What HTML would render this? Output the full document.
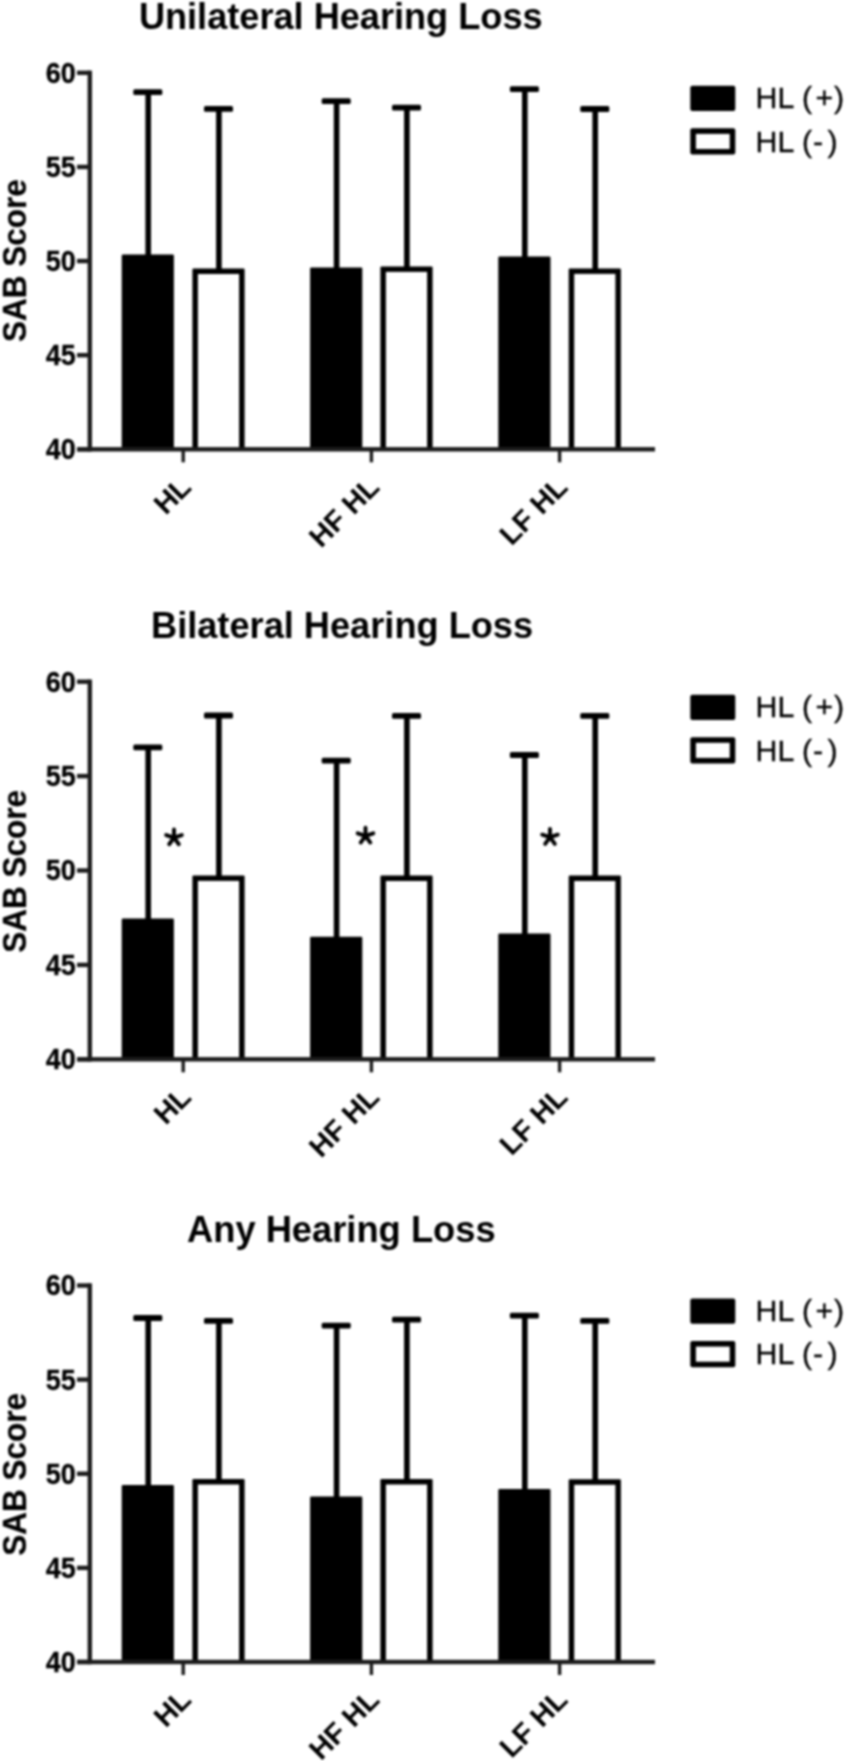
<!DOCTYPE html>
<html><head><meta charset="utf-8"><style>
html,body{margin:0;padding:0;background:#fff;}
svg{display:block;filter:blur(0.8px);}
text{font-family:"Liberation Sans",sans-serif;fill:#000;}
.t{font-size:36px;font-weight:bold;}
.n{font-size:27px;font-weight:bold;stroke:#000;stroke-width:0.3px;}
.yl{font-size:31.5px;font-weight:bold;stroke:#000;stroke-width:0.25px;}
.xl{font-size:28.8px;font-weight:bold;}
.lg{font-size:30.3px;stroke:#000;stroke-width:0.35px;}
</style></head><body>
<svg width="845" height="1761" viewBox="0 0 845 1761">
<rect width="845" height="1761" fill="#fff"/>
<text x="138.9" y="28.5" class="t" style="font-size:36.15px">Unilateral Hearing Loss</text>
<rect x="145.4" y="92.2" width="5.6" height="164.4" fill="#000"/>
<rect x="133.3" y="89.3" width="29" height="5.8" rx="1.5" fill="#000"/>
<rect x="216.1" y="108.8" width="5.6" height="161.7" fill="#000"/>
<rect x="204.0" y="105.9" width="29" height="5.8" rx="1.5" fill="#000"/>
<rect x="121.7" y="254.6" width="52.2" height="194.7" rx="1.2" fill="#000"/>
<rect x="192.4" y="268.5" width="52.2" height="180.8" rx="1.2" fill="#000"/>
<rect x="197.9" y="274.0" width="41.2" height="175.3" fill="#fff"/>
<rect x="333.8" y="101.1" width="5.6" height="168.3" fill="#000"/>
<rect x="321.7" y="98.2" width="29" height="5.8" rx="1.5" fill="#000"/>
<rect x="404.1" y="107.6" width="5.6" height="160.8" fill="#000"/>
<rect x="392.0" y="104.7" width="29" height="5.8" rx="1.5" fill="#000"/>
<rect x="310.1" y="267.4" width="52.2" height="181.9" rx="1.2" fill="#000"/>
<rect x="380.4" y="266.4" width="52.2" height="182.9" rx="1.2" fill="#000"/>
<rect x="385.9" y="271.9" width="41.2" height="177.4" fill="#fff"/>
<rect x="522.0" y="89.2" width="5.6" height="169.4" fill="#000"/>
<rect x="509.9" y="86.3" width="29" height="5.8" rx="1.5" fill="#000"/>
<rect x="592.4" y="109.0" width="5.6" height="161.4" fill="#000"/>
<rect x="580.3" y="106.1" width="29" height="5.8" rx="1.5" fill="#000"/>
<rect x="498.3" y="256.6" width="52.2" height="192.7" rx="1.2" fill="#000"/>
<rect x="568.7" y="268.4" width="52.2" height="180.9" rx="1.2" fill="#000"/>
<rect x="574.2" y="273.9" width="41.2" height="175.4" fill="#fff"/>
<rect x="87.6" y="70.6" width="4.4" height="380.9" fill="#1c1c1c"/>
<rect x="77" y="447.1" width="578" height="4.4" fill="#1c1c1c"/>
<rect x="77" y="70.6" width="12.8" height="4.4" fill="#1c1c1c"/>
<text transform="translate(75.8,82.70) scale(1,1.07)" class="n" text-anchor="end">60</text>
<rect x="77" y="164.73" width="12.8" height="4.4" fill="#1c1c1c"/>
<text transform="translate(75.8,176.83) scale(1,1.07)" class="n" text-anchor="end">55</text>
<rect x="77" y="258.85" width="12.8" height="4.4" fill="#1c1c1c"/>
<text transform="translate(75.8,270.95) scale(1,1.07)" class="n" text-anchor="end">50</text>
<rect x="77" y="352.98" width="12.8" height="4.4" fill="#1c1c1c"/>
<text transform="translate(75.8,365.07) scale(1,1.07)" class="n" text-anchor="end">45</text>
<rect x="77" y="447.1" width="12.8" height="4.4" fill="#1c1c1c"/>
<text transform="translate(75.8,459.20) scale(1,1.07)" class="n" text-anchor="end">40</text>
<rect x="181.5" y="449.3" width="3.4" height="13" fill="#1c1c1c"/>
<text transform="translate(192.8,488.7) rotate(-45)" class="xl" text-anchor="end">HL</text>
<rect x="369.7" y="449.3" width="3.4" height="13" fill="#1c1c1c"/>
<text transform="translate(381.0,488.7) rotate(-45)" class="xl" text-anchor="end">HF HL</text>
<rect x="557.9" y="449.3" width="3.4" height="13" fill="#1c1c1c"/>
<text transform="translate(569.2,488.7) rotate(-45)" class="xl" text-anchor="end">LF HL</text>
<text transform="translate(25.5,260.55) rotate(-90) scale(1,1.05)" class="yl" text-anchor="middle">SAB Score</text>
<rect x="690.3" y="85.80" width="45" height="25.3" rx="2" fill="#000"/>
<rect x="690.3" y="128.30" width="45" height="26.3" rx="2" fill="#000"/>
<rect x="695.9" y="133.90" width="33.8" height="15.1" fill="#fff"/>
<g transform="translate(0,108.10) scale(1,1.0)"><text y="0" class="lg"><tspan x="755.6">HL</tspan><tspan x="802">(</tspan><tspan x="815.5">+</tspan><tspan x="834">)</tspan></text></g>
<g transform="translate(0,151.60) scale(1,1.0)"><text y="0" class="lg"><tspan x="755.6">HL</tspan><tspan x="802">(</tspan><tspan x="813">-</tspan><tspan x="827.5">)</tspan></text></g>
<text x="151.0" y="637.6" class="t" style="font-size:36.2px">Bilateral Hearing Loss</text>
<rect x="145.4" y="747.4" width="5.6" height="173.2" fill="#000"/>
<rect x="133.3" y="744.5" width="29" height="5.8" rx="1.5" fill="#000"/>
<rect x="216.1" y="715.5" width="5.6" height="161.9" fill="#000"/>
<rect x="204.0" y="712.6" width="29" height="5.8" rx="1.5" fill="#000"/>
<rect x="121.7" y="918.6" width="52.2" height="140.7" rx="1.2" fill="#000"/>
<rect x="192.4" y="875.4" width="52.2" height="183.9" rx="1.2" fill="#000"/>
<rect x="197.9" y="880.9" width="41.2" height="178.4" fill="#fff"/>
<rect x="333.8" y="760.6" width="5.6" height="178.1" fill="#000"/>
<rect x="321.7" y="757.7" width="29" height="5.8" rx="1.5" fill="#000"/>
<rect x="404.1" y="715.9" width="5.6" height="161.6" fill="#000"/>
<rect x="392.0" y="713.0" width="29" height="5.8" rx="1.5" fill="#000"/>
<rect x="310.1" y="936.7" width="52.2" height="122.6" rx="1.2" fill="#000"/>
<rect x="380.4" y="875.5" width="52.2" height="183.8" rx="1.2" fill="#000"/>
<rect x="385.9" y="881.0" width="41.2" height="178.3" fill="#fff"/>
<rect x="522.0" y="755.0" width="5.6" height="180.5" fill="#000"/>
<rect x="509.9" y="752.1" width="29" height="5.8" rx="1.5" fill="#000"/>
<rect x="592.4" y="715.9" width="5.6" height="161.6" fill="#000"/>
<rect x="580.3" y="713.0" width="29" height="5.8" rx="1.5" fill="#000"/>
<rect x="498.3" y="933.5" width="52.2" height="125.8" rx="1.2" fill="#000"/>
<rect x="568.7" y="875.5" width="52.2" height="183.8" rx="1.2" fill="#000"/>
<rect x="574.2" y="881.0" width="41.2" height="178.3" fill="#fff"/>
<rect x="87.6" y="679.5" width="4.4" height="382" fill="#1c1c1c"/>
<rect x="77" y="1057.1" width="578" height="4.4" fill="#1c1c1c"/>
<rect x="77" y="679.5" width="12.8" height="4.4" fill="#1c1c1c"/>
<text transform="translate(75.8,691.60) scale(1,1.07)" class="n" text-anchor="end">60</text>
<rect x="77" y="773.9" width="12.8" height="4.4" fill="#1c1c1c"/>
<text transform="translate(75.8,786.00) scale(1,1.07)" class="n" text-anchor="end">55</text>
<rect x="77" y="868.3" width="12.8" height="4.4" fill="#1c1c1c"/>
<text transform="translate(75.8,880.40) scale(1,1.07)" class="n" text-anchor="end">50</text>
<rect x="77" y="962.7" width="12.8" height="4.4" fill="#1c1c1c"/>
<text transform="translate(75.8,974.80) scale(1,1.07)" class="n" text-anchor="end">45</text>
<rect x="77" y="1057.1" width="12.8" height="4.4" fill="#1c1c1c"/>
<text transform="translate(75.8,1069.20) scale(1,1.07)" class="n" text-anchor="end">40</text>
<rect x="181.5" y="1059.3" width="3.4" height="13" fill="#1c1c1c"/>
<text transform="translate(192.8,1098.7) rotate(-45)" class="xl" text-anchor="end">HL</text>
<rect x="369.7" y="1059.3" width="3.4" height="13" fill="#1c1c1c"/>
<text transform="translate(381.0,1098.7) rotate(-45)" class="xl" text-anchor="end">HF HL</text>
<rect x="557.9" y="1059.3" width="3.4" height="13" fill="#1c1c1c"/>
<text transform="translate(569.2,1098.7) rotate(-45)" class="xl" text-anchor="end">LF HL</text>
<text transform="translate(25.5,871.40) rotate(-90) scale(1,1.05)" class="yl" text-anchor="middle">SAB Score</text>
<path d="M174.00 837.60L174.00 829.40M174.00 837.60L181.80 835.07M174.00 837.60L178.82 844.23M174.00 837.60L169.18 844.23M174.00 837.60L166.20 835.07" stroke="#000" stroke-width="3.9" stroke-linecap="round" fill="none"/>
<path d="M365.50 835.90L365.50 827.70M365.50 835.90L373.30 833.37M365.50 835.90L370.32 842.53M365.50 835.90L360.68 842.53M365.50 835.90L357.70 833.37" stroke="#000" stroke-width="3.9" stroke-linecap="round" fill="none"/>
<path d="M550.00 837.20L550.00 829.00M550.00 837.20L557.80 834.67M550.00 837.20L554.82 843.83M550.00 837.20L545.18 843.83M550.00 837.20L542.20 834.67" stroke="#000" stroke-width="3.9" stroke-linecap="round" fill="none"/>
<rect x="690.3" y="694.70" width="45" height="25.3" rx="2" fill="#000"/>
<rect x="690.3" y="737.20" width="45" height="26.3" rx="2" fill="#000"/>
<rect x="695.9" y="742.80" width="33.8" height="15.1" fill="#fff"/>
<g transform="translate(0,717.00) scale(1,1.0)"><text y="0" class="lg"><tspan x="755.6">HL</tspan><tspan x="802">(</tspan><tspan x="815.5">+</tspan><tspan x="834">)</tspan></text></g>
<g transform="translate(0,760.50) scale(1,1.0)"><text y="0" class="lg"><tspan x="755.6">HL</tspan><tspan x="802">(</tspan><tspan x="813">-</tspan><tspan x="827.5">)</tspan></text></g>
<text x="187.0" y="1241.5" class="t" style="font-size:36.3px">Any Hearing Loss</text>
<rect x="145.4" y="1318.0" width="5.6" height="168.9" fill="#000"/>
<rect x="133.3" y="1315.1" width="29" height="5.8" rx="1.5" fill="#000"/>
<rect x="216.1" y="1320.8" width="5.6" height="160.2" fill="#000"/>
<rect x="204.0" y="1317.9" width="29" height="5.8" rx="1.5" fill="#000"/>
<rect x="121.7" y="1484.9" width="52.2" height="177.1" rx="1.2" fill="#000"/>
<rect x="192.4" y="1479.0" width="52.2" height="183.0" rx="1.2" fill="#000"/>
<rect x="197.9" y="1484.5" width="41.2" height="177.5" fill="#fff"/>
<rect x="333.8" y="1325.6" width="5.6" height="173.0" fill="#000"/>
<rect x="321.7" y="1322.7" width="29" height="5.8" rx="1.5" fill="#000"/>
<rect x="404.1" y="1319.7" width="5.6" height="161.3" fill="#000"/>
<rect x="392.0" y="1316.8" width="29" height="5.8" rx="1.5" fill="#000"/>
<rect x="310.1" y="1496.6" width="52.2" height="165.4" rx="1.2" fill="#000"/>
<rect x="380.4" y="1479.0" width="52.2" height="183.0" rx="1.2" fill="#000"/>
<rect x="385.9" y="1484.5" width="41.2" height="177.5" fill="#fff"/>
<rect x="522.0" y="1315.7" width="5.6" height="175.2" fill="#000"/>
<rect x="509.9" y="1312.8" width="29" height="5.8" rx="1.5" fill="#000"/>
<rect x="592.4" y="1320.8" width="5.6" height="160.5" fill="#000"/>
<rect x="580.3" y="1317.9" width="29" height="5.8" rx="1.5" fill="#000"/>
<rect x="498.3" y="1488.9" width="52.2" height="173.1" rx="1.2" fill="#000"/>
<rect x="568.7" y="1479.3" width="52.2" height="182.7" rx="1.2" fill="#000"/>
<rect x="574.2" y="1484.8" width="41.2" height="177.2" fill="#fff"/>
<rect x="87.6" y="1283.3" width="4.4" height="380.9" fill="#1c1c1c"/>
<rect x="77" y="1659.8" width="578" height="4.4" fill="#1c1c1c"/>
<rect x="77" y="1283.3" width="12.8" height="4.4" fill="#1c1c1c"/>
<text transform="translate(75.8,1295.40) scale(1,1.07)" class="n" text-anchor="end">60</text>
<rect x="77" y="1377.42" width="12.8" height="4.4" fill="#1c1c1c"/>
<text transform="translate(75.8,1389.53) scale(1,1.07)" class="n" text-anchor="end">55</text>
<rect x="77" y="1471.55" width="12.8" height="4.4" fill="#1c1c1c"/>
<text transform="translate(75.8,1483.65) scale(1,1.07)" class="n" text-anchor="end">50</text>
<rect x="77" y="1565.67" width="12.8" height="4.4" fill="#1c1c1c"/>
<text transform="translate(75.8,1577.78) scale(1,1.07)" class="n" text-anchor="end">45</text>
<rect x="77" y="1659.8" width="12.8" height="4.4" fill="#1c1c1c"/>
<text transform="translate(75.8,1671.90) scale(1,1.07)" class="n" text-anchor="end">40</text>
<rect x="181.5" y="1662.0" width="3.4" height="13" fill="#1c1c1c"/>
<text transform="translate(192.8,1701.4) rotate(-45)" class="xl" text-anchor="end">HL</text>
<rect x="369.7" y="1662.0" width="3.4" height="13" fill="#1c1c1c"/>
<text transform="translate(381.0,1701.4) rotate(-45)" class="xl" text-anchor="end">HF HL</text>
<rect x="557.9" y="1662.0" width="3.4" height="13" fill="#1c1c1c"/>
<text transform="translate(569.2,1701.4) rotate(-45)" class="xl" text-anchor="end">LF HL</text>
<text transform="translate(25.5,1474.45) rotate(-90) scale(1,1.05)" class="yl" text-anchor="middle">SAB Score</text>
<rect x="690.3" y="1298.50" width="45" height="25.3" rx="2" fill="#000"/>
<rect x="690.3" y="1341.00" width="45" height="26.3" rx="2" fill="#000"/>
<rect x="695.9" y="1346.60" width="33.8" height="15.1" fill="#fff"/>
<g transform="translate(0,1320.80) scale(1,1.0)"><text y="0" class="lg"><tspan x="755.6">HL</tspan><tspan x="802">(</tspan><tspan x="815.5">+</tspan><tspan x="834">)</tspan></text></g>
<g transform="translate(0,1364.30) scale(1,1.0)"><text y="0" class="lg"><tspan x="755.6">HL</tspan><tspan x="802">(</tspan><tspan x="813">-</tspan><tspan x="827.5">)</tspan></text></g>
</svg>
</body></html>
